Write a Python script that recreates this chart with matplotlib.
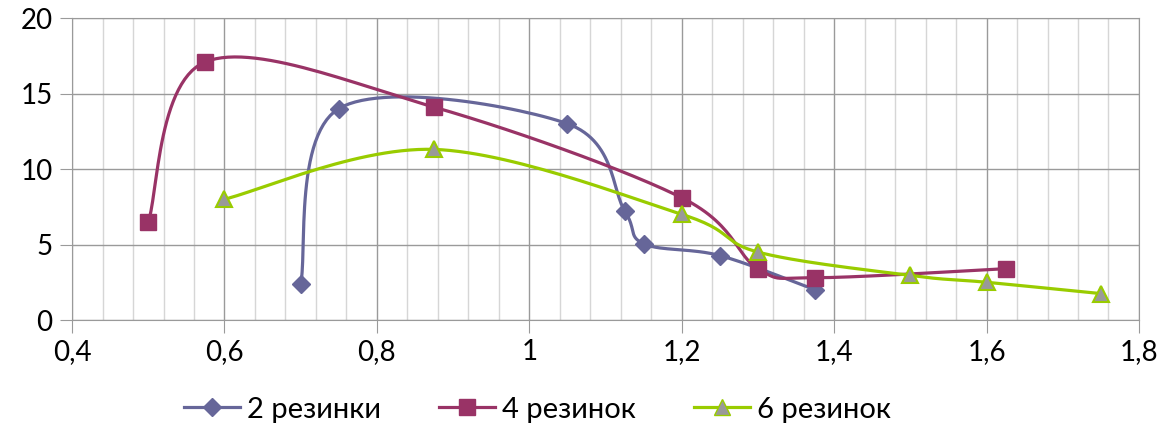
import numpy as np
import matplotlib.pyplot as plt
from matplotlib.ticker import MultipleLocator, FuncFormatter

plt.rcParams['font.family'] = ['Lato', 'DejaVu Sans']

# data
x2 = [0.7, 0.75, 1.05, 1.125, 1.15, 1.25, 1.375]
y2 = [2.4, 14.0, 13.0, 7.25, 5.05, 4.27, 2.0]
x4 = [0.5, 0.575, 0.875, 1.2, 1.3, 1.375, 1.625]
y4 = [6.5, 17.1, 14.1, 8.1, 3.4, 2.8, 3.4]
x6 = [0.6, 0.875, 1.2, 1.3, 1.5, 1.6, 1.75]
y6 = [8.0, 11.3, 7.0, 4.5, 2.95, 2.5, 1.75]
labels = ['2 резинки', '4 резинок', '6 резинок']


def smooth(xs, ys, n=30):
    # Excel-like smoothed line (Catmull-Rom as cubic Bezier)
    p = np.column_stack([xs, ys])
    p = np.vstack([p[0], p, p[-1]])
    out = []
    t = np.linspace(0, 1, n)[:, None]
    for i in range(1, len(p) - 2):
        p0, p1, p2, p3 = p[i - 1], p[i], p[i + 1], p[i + 2]
        c1 = p1 + (p2 - p0) / 6
        c2 = p2 - (p3 - p1) / 6
        seg = ((1 - t) ** 3) * p1 + 3 * ((1 - t) ** 2) * t * c1 + 3 * (1 - t) * t ** 2 * c2 + t ** 3 * p2
        out.append(seg)
    s = np.vstack(out)
    return s[:, 0], s[:, 1]


fig = plt.figure(figsize=(11.64, 4.40), dpi=100)
ax = fig.add_axes([0.0619, 0.2727, 0.9166, 0.6863])

c_blue = '#666699'
c_purp = '#993366'
c_green = '#99CC00'

sx, sy = smooth(x2, y2)
ax.plot(sx, sy, color=c_blue, lw=2.3, zorder=3)
ax.plot(x2, y2, ls='none', marker='D', ms=9, color=c_blue, zorder=4)

sx, sy = smooth(x4, y4)
ax.plot(sx, sy, color=c_purp, lw=2.3, zorder=5)
ax.plot(x4, y4, ls='none', marker='s', ms=11, color=c_purp, zorder=6)

sx, sy = smooth(x6, y6)
ax.plot(sx, sy, color=c_green, lw=2.3, zorder=7)
ax.plot(x6, y6, ls='none', marker='^', ms=12, mfc='#999999', mec=c_green, mew=1.5, zorder=8)

# legend proxies
h2, = ax.plot([], [], color=c_blue, lw=2.3, marker='D', ms=9)
h4, = ax.plot([], [], color=c_purp, lw=2.3, marker='s', ms=11)
h6, = ax.plot([], [], color=c_green, lw=2.3, marker='^', ms=12, mfc='#999999', mec=c_green)
fig.legend([h2, h4, h6], labels, loc='lower center', bbox_to_anchor=(0.462, -0.02), ncol=3,
           frameon=False, fontsize=21, handlelength=1.9, handletextpad=0.25, columnspacing=2.0)

ax.set_xlim(0.4, 1.8)
ax.set_ylim(0, 20)
ax.xaxis.set_major_locator(MultipleLocator(0.2))
ax.xaxis.set_minor_locator(MultipleLocator(0.04))
ax.yaxis.set_major_locator(MultipleLocator(5))
ax.xaxis.set_major_formatter(FuncFormatter(lambda v, p: ('%g' % round(v, 2)).replace('.', ',')))

ax.grid(which='major', color='#9a9a9a', lw=1.0)
ax.grid(which='minor', axis='x', color='#d6d6d6', lw=1.0)
ax.set_axisbelow(True)
for s in ax.spines.values():
    s.set_color('#9a9a9a')
ax.tick_params(which='major', length=9, color='#9a9a9a', labelsize=20, pad=5)
ax.tick_params(which='minor', length=0)

fig.savefig('out.png', dpi=100)
